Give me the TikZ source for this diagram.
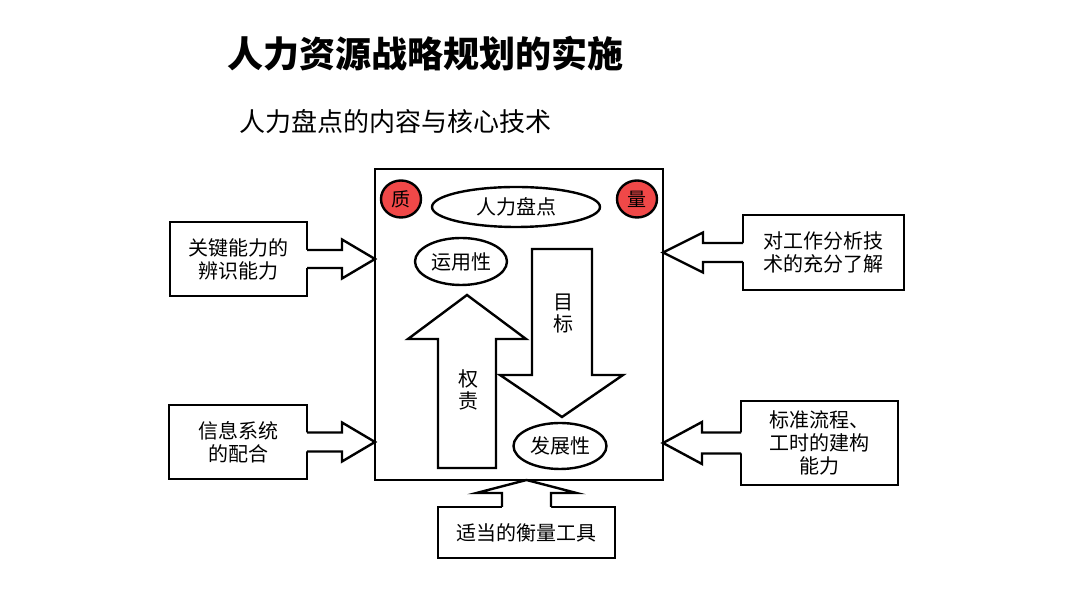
\documentclass[tikz,border=0pt]{standalone}
\usepackage{fontspec}
\setmainfont{Noto Sans CJK SC}
\usetikzlibrary{shapes.geometric, positioning, calc}
\definecolor{markred}{RGB}{240,72,72}

\begin{document}
\begin{tikzpicture}[x=1pt, y=1pt, line width=2.4pt,
        box/.style={draw, fill=white, inner sep=0pt, outer sep=0pt, align=center, font=\fontsize{20}{23}\selectfont},
        oval/.style={draw, ellipse, inner sep=0pt, font=\fontsize{20}{24}\selectfont},
        tagcircle/.style={draw, ellipse, fill=markred, minimum width=40, minimum height=37, inner sep=0pt, font=\fontsize{19}{20}\selectfont},
        vtext/.style={align=center, inner sep=0pt, font=\fontsize{20}{22}\selectfont},
        bigarr/.style={draw, fill=white, line join=miter},
        pics/fatarrow/.style n args={4}{code={
            \fill[white] (0,0) -- (-#1,#2) -- (-#1,#4) -- (-#3-2,#4) -- (-#3-2,-#4) -- (-#1,-#4) -- (-#1,-#2) -- cycle;
            \draw[line join=miter] (-#3,#4) -- (-#1,#4) -- (-#1,#2) -- (0,0) -- (-#1,-#2) -- (-#1,-#4) -- (-#3,-#4);
        }}
    ]
    \useasboundingbox (0,0) rectangle (1080,607);

    \node[font=\fontsize{36}{40}\selectfont\bfseries] (title) at (425,553) {人力资源战略规划的实施};
    \node[font=\fontsize{26}{30}\selectfont] (subtitle) at (395,485) {人力盘点的内容与核心技术};

    \node[draw, minimum width=288, minimum height=311, inner sep=0pt, outer sep=0pt] (main) at (519,282.5) {};

    \node[tagcircle] (quality) at (401,408) {质};
    \node[tagcircle] (quantity) at (637,408) {量};
    \node[oval, minimum width=168, minimum height=40] (stock) at (516,400) {人力盘点};
    \node[oval, minimum width=92, minimum height=47] (usage) at (461,345.5) {运用性};

    \draw[bigarr] (532,358) -- (592,358) -- (592,232) -- (623,232) -- (562,190) -- (500,232) -- (532,232) -- cycle;
    \draw[bigarr] (467,312) -- (526,268) -- (496,268) -- (496,139) -- (438,139) -- (438,268) -- (408,268) -- cycle;
    \node[oval, minimum width=93, minimum height=46] (growth) at (560,161) {发展性};
    \node[vtext] (goal) at (563,293) {目\\标};
    \node[vtext] (duty) at (468,217) {权\\责};

    \node[box, minimum width=137, minimum height=74] (keyskill) at (238.5,348) {关键能力的\\辨识能力};
    \node[box, minimum width=138, minimum height=74] (infosys) at (238,165) {信息系统\\的配合};
    \node[box, minimum width=161, minimum height=75] (jobanalysis) at (823.5,354.5) {对工作分析技\\术的充分了解};
    \node[box, minimum width=157, minimum height=84] (standard) at (819.5,164) {标准流程、\\工时的建构\\能力};
    \node[box, minimum width=177, minimum height=51] (tools) at (526.5,74.5) {适当的衡量工具};

    \pic at (main.west |- keyskill.east) {fatarrow={33}{19.5}{68}{9}};
    \pic at (main.west |- infosys.east) {fatarrow={33}{19.5}{68}{9.5}};
    \pic[rotate=180] at (main.east |- jobanalysis.west) {fatarrow={40}{20}{80}{9.5}};
    \pic[rotate=180] at (main.east |- standard.west) {fatarrow={39}{21}{78}{10.5}};
    \pic[rotate=90] at (main.south -| tools.north) {fatarrow={13}{50}{27}{24.5}};
\end{tikzpicture}
\end{document}
